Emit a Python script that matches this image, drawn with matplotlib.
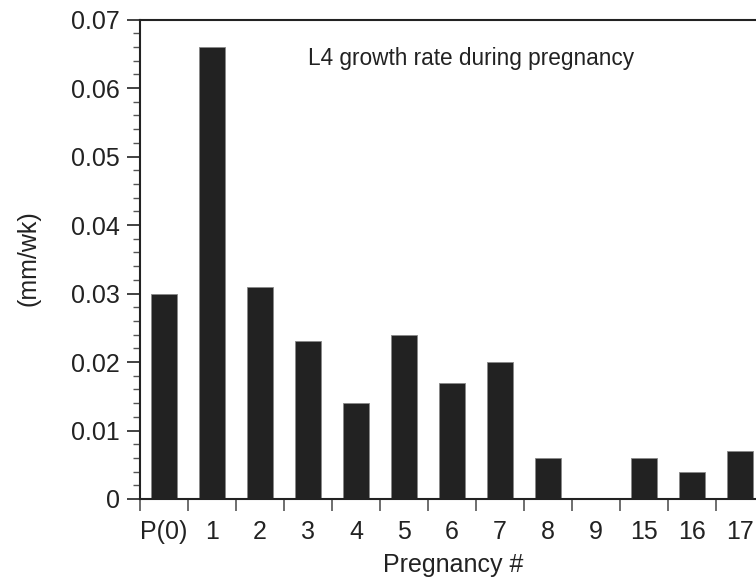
import matplotlib
matplotlib.use("Agg")
import matplotlib.pyplot as plt
from matplotlib.ticker import MultipleLocator, FixedLocator

plt.rcParams['font.family'] = ['Liberation Sans', 'DejaVu Sans']

categories = ["P(0)", "1", "2", "3", "4", "5", "6", "7", "8", "9", "15", "16", "17"]
growth_rate = [0.030, 0.066, 0.031, 0.023, 0.014, 0.024, 0.017, 0.020, 0.006, 0.0, 0.006, 0.004, 0.007]
ytick_vals = [0, 0.01, 0.02, 0.03, 0.04, 0.05, 0.06, 0.07]
ytick_labels = ["0", "0.01", "0.02", "0.03", "0.04", "0.05", "0.06", "0.07"]

W, H = 756, 581
fig = plt.figure(figsize=(W / 100, H / 100), dpi=100)
ax = fig.add_axes([140 / W, 82 / H, 624 / W, 479.5 / H])

x = list(range(len(categories)))
ax.bar(x, growth_rate, width=0.54, color="#222222", edgecolor="#888888", linewidth=0.6)

ax.set_xlim(-0.5, len(categories) - 0.5)
ax.set_ylim(0, 0.07)

ax.set_yticks(ytick_vals)
ax.set_yticklabels(ytick_labels)
ax.yaxis.set_minor_locator(MultipleLocator(0.002))

ax.set_xticks(x)
ax.set_xticklabels(categories)
ax.xaxis.set_minor_locator(FixedLocator([i - 0.5 for i in range(len(categories) + 1)]))

ax.tick_params(axis='y', which='major', direction='out', length=9.4, width=1.2, labelsize=18, pad=5, colors='#222222')
ax.tick_params(axis='y', which='minor', direction='out', length=5, width=1.0, colors='#555555')
ax.tick_params(axis='x', which='major', length=0, labelsize=18, pad=15, colors='#222222')
ax.tick_params(axis='x', which='minor', direction='out', length=8.6, width=1.2, colors='#555555')

for s in ['left', 'bottom', 'top']:
    ax.spines[s].set_linewidth(1.5)
    ax.spines[s].set_color('#222222')
ax.spines['right'].set_visible(False)

fig.text(453 / W, 1 - 565 / H, "Pregnancy #", fontsize=18, color='#222222', ha='center', va='center')
fig.text(28 / W, 1 - 258 / H, "(mm/wk)", fontsize=18, color='#222222', ha='center', va='center', rotation=90)

fig.text(308 / W, 1 - 58 / H, "L4 growth rate during pregnancy", fontsize=16.3,
         color='#222222', va='center', ha='left')

fig.savefig("out.png", dpi=100)
